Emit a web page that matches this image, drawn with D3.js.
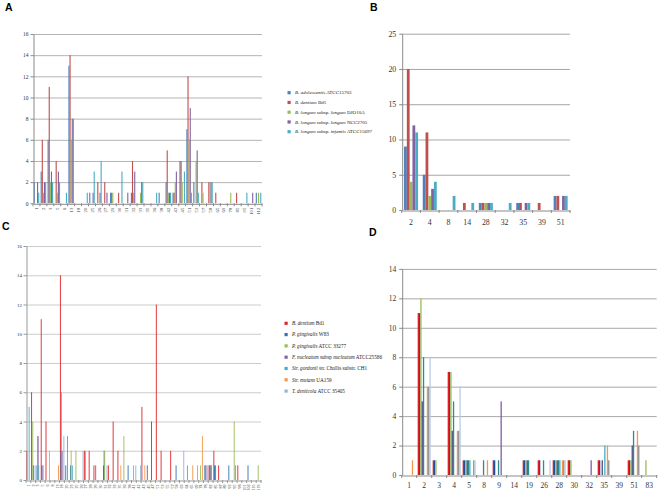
<!DOCTYPE html>
<html><head><meta charset="utf-8">
<script src="https://cdn.jsdelivr.net/npm/d3@7"></script>
<style>body{margin:0;background:#fff}svg{display:block}</style>
</head><body>
<script>
// ---------- DATA ----------
// Panel A
const catsA = ["1","2","3","5","6","13","18","20","25","26","27","29","30","31","32","33","35","36","38","42","43","45","51","53","57","58","65","69","78","85","95","101","112"];
const namesA = ["*B. adolescentis* ATCC15703","*B. dentium* Bd1","*B. longum* subsp. *longum* DJO10A","*B. longum* subsp. *longum* NCC2705","*B. longum* subsp. *infantis* ATCC15697"];
const colorsA = ["#4F81BD","#C0504D","#9BBB59","#8064A2","#4BACC6"];
const aAdolescentis = [2,3,6,0,0,13,0,0,1,0,0,1,0,0,1,0,0,0,1,2,1,4,7,2,0,0,0,0,0,0,0,0,1];
const aDentium      = [0,6,11,4,0,14,0,0,0,2,2,1,1,0,4,0,0,0,0,5,1,4,12,0,2,2,1,0,0,1,0,0,0];
const aDJO10A       = [0,1,2,1,0,6,0,0,0,0,0,1,0,0,1,1,0,0,0,1,2,2,6,4,1,2,0,0,1,0,0,0,1];
const aNCC2705      = [2,2,3,3,0,8,0,0,1,1,1,0,0,1,3,2,0,0,0,1,3,0,9,5,0,2,0,0,0,0,0,1,0];
const aInfantis     = [1,2,2,2,1,8,0,1,3,4,0,0,3,0,0,2,0,1,0,1,0,3,1,1,0,2,0,0,0,0,1,0,1];
const yTicksA = [0,2,4,6,8,10,12,14,16];

// Panel B
const catsB = ["2","4","8","14","28","32","35","39","51"];
const bAdolescentis = [9,5,0,0,1,0,1,0,2];
const bDentium      = [20,11,0,1,1,0,1,1,2];
const bDJO10A       = [4,2,0,0,1,0,0,0,0];
const bNCC2705      = [12,3,0,0,1,0,1,0,2];
const bInfantis     = [11,4,2,1,1,1,1,0,2];
const yTicksB = [0,5,10,15,20,25];

// Panel C
const catsC = ["1","2","3","5","6","8","13","18","20","23","25","26","27","28","29","30","31","32","33","35","36","38","41","42","43","45","47","51","53","55","57","58","63","64","65","69","74","78","82","85","87","89","92","95","98","101","106","110","119"];
const namesC = ["*B. dentium* Bd1","*P. gingivalis* W83","*P. gingivalis* ATCC 33277","*F. nucleatum* subsp *nucleatum* ATCC25586","*Str. gordonii* str. Challis substr. CH1","*Str. mutans* UA159","*T. denticola* ATCC 35405"];
const colorsC = ["#E0262B","#2E75B6","#9BBB59","#8064A2","#4BACC6","#F79646","#95B3D7"];
const cDentium   = [2,6,0,11,4,0,0,14,0,0,0,0,2,2,1,0,1,1,4,2,0,0,0,0,5,0,4,12,2,0,2,0,0,0,0,0,0,0,1,2,1,0,0,0,1,0,0,0,0];
const cW83       = [0,0,1,1,0,0,0,2,1,1,0,0,0,0,0,0,2,0,0,0,0,1,0,0,0,1,0,0,0,0,0,1,0,0,0,0,0,1,1,1,0,0,1,0,0,0,1,0,0];
const c33277     = [0,4,3,0,0,0,0,6,0,2,2,0,2,0,0,0,2,0,0,0,3,0,1,0,0,0,0,0,0,0,0,0,0,0,0,0,1,1,1,0,0,0,0,4,0,0,0,0,1];
const cNucleatum = [0,1,3,1,0,0,0,2,0,0,0,0,0,0,1,0,0,0,0,0,0,0,0,0,0,0,0,0,0,0,0,0,0,0,0,0,0,1,1,1,0,0,0,0,0,0,0,0,0];
const cGordonii  = [5,0,1,0,0,0,0,0,3,1,0,0,0,0,0,0,0,0,0,0,0,0,0,0,0,0,0,0,0,0,0,0,0,1,0,0,0,0,1,0,0,0,0,1,0,0,0,0,0];
const cMutans    = [0,0,0,0,0,0,1,0,0,0,0,0,0,0,0,0,0,0,0,1,0,0,0,0,1,0,0,0,0,0,0,0,0,0,1,1,3,0,0,0,0,0,0,0,0,0,0,0,0];
const cDenticola = [0,1,0,0,2,0,0,3,0,0,0,2,0,0,0,0,1,0,0,0,0,0,1,1,0,0,0,0,0,0,0,0,2,0,0,0,0,1,0,0,0,0,0,0,0,0,0,0,0];
const yTicksC = [0,2,4,6,8,10,12,14,16];

// Panel D
const catsD = ["1","2","3","4","5","8","9","14","19","26","28","30","32","35","39","51","83"];
const colorsD = ["#E31B23","#1F4E9A","#9BBB59","#4B4F7F","#2E8B8B","#4BACC6","#7F5FA8","#F79646","#8C8C8C","#B9CDE5"];
const dS1  = [0,11,1,7,1,0,1,0,1,1,1,1,0,1,0,1,0];
const dS2  = [0,11,1,7,1,0,1,0,1,1,1,1,0,1,0,1,0];
const dS3  = [0,12,1,7,1,0,0,0,1,0,1,1,0,0,0,1,1];
const dS4  = [0,5,0,3,1,0,0,0,1,0,1,0,0,1,0,2,0];
const dS5  = [0,8,0,5,1,1,1,0,1,1,1,0,0,0,0,3,0];
const dS6  = [0,0,0,0,1,0,0,0,0,0,1,0,0,2,0,0,0];
const dS7  = [0,0,0,0,0,0,5,0,0,0,0,0,1,0,0,0,0];
const dS8  = [1,6,0,3,0,1,0,0,0,0,1,0,0,2,0,3,0];
const dS9  = [0,6,0,3,1,0,0,0,0,0,1,0,0,1,0,2,0];
const dS10 = [0,8,0,6,1,0,0,0,0,1,1,0,0,0,0,0,0];
const yTicksD = [0,2,4,6,8,10,12,14];

// ---------- DRAW ----------
const SERIF = "'Liberation Serif','Times New Roman',serif";
const SANS = "'Liberation Sans',Arial,sans-serif";
const svg = d3.select("body").append("svg").attr("width",661).attr("height",495);

function panel(o){
  const g = svg.append("g");
  const x0 = d3.scaleBand().domain(o.cats).range([o.left,o.right]).paddingInner(o.pad).paddingOuter(o.pad/2);
  const x1 = d3.scaleBand().domain(d3.range(o.series.length)).range([0,x0.bandwidth()]);
  const yMax = o.yTicks[o.yTicks.length-1];
  const y = d3.scaleLinear().domain([0,yMax]).range([o.bottom,o.top]);
  // grid
  g.selectAll(null).data(o.yTicks.filter(t=>t>0)).join("line")
    .attr("x1",o.left).attr("x2",o.right).attr("y1",d=>y(d)+0.5).attr("y2",d=>y(d)+0.5)
    .attr("stroke",o.grid).attr("stroke-width",1);
  // bars
  o.series.forEach((vals,k)=>{
    g.selectAll(null).data(vals.map((v,i)=>({v,c:o.cats[i]})).filter(d=>d.v>0)).join("rect")
      .attr("x",d=>x0(d.c)+x1(k)).attr("width",Math.max(x1.bandwidth(),o.minW||0))
      .attr("y",d=>y(d.v)).attr("height",d=>y(0)-y(d.v)).attr("fill",o.colors[k]);
  });
  // y axis
  const yg = g.append("g").attr("transform",`translate(${o.left+0.5},0)`)
    .call(d3.axisLeft(y).tickValues(o.yTicks).tickSize(3).tickSizeOuter(0).tickFormat(d3.format("d")));
  yg.select(".domain").attr("stroke",o.axis);
  yg.selectAll(".tick line").attr("stroke",o.axis);
  yg.selectAll(".tick text").attr("font-family",SERIF).attr("font-size",o.yFont).attr("fill","#333").attr("x",-o.yGap);
  // x axis
  const xg = g.append("g").attr("transform",`translate(0,${o.bottom+0.5})`)
    .call(d3.axisBottom(x0).tickSize(0).tickSizeOuter(0));
  xg.select(".domain").attr("stroke",o.axis);
  const step = x0.step();
  g.selectAll(null).data(d3.range(o.cats.length+1)).join("line")
    .attr("x1",i=>o.left+x0.paddingOuter()*step - x0.paddingInner()*step/2 + i*step)
    .attr("x2",i=>o.left+x0.paddingOuter()*step - x0.paddingInner()*step/2 + i*step)
    .attr("y1",o.bottom).attr("y2",o.bottom+3).attr("stroke",o.axis);
  const xt = xg.selectAll(".tick text").attr("font-family",SERIF).attr("font-size",o.xFont).attr("fill","#333");
  if(o.rotate){
    xt.attr("transform","rotate(-90)").attr("text-anchor","end").attr("x",-4).attr("y",0).attr("dy","0.35em");
  } else {
    xt.attr("y",o.xGap).attr("dy","0.71em");
  }
  // panel letter
  svg.append("text").attr("x",o.letterX).attr("y",o.letterY).text(o.letter)
    .attr("font-family",SANS).attr("font-weight","bold").attr("font-size",10.5).attr("fill","#000");
}

function legend(names,colors,x,y0,dy,fs){
  const lg = svg.append("g");
  names.forEach((n,k)=>{
    const yy = y0 + k*dy;
    lg.append("rect").attr("x",x).attr("y",yy-1.6).attr("width",3.2).attr("height",3.2).attr("fill",colors[k]);
    const t = lg.append("text").attr("x",x+7.5).attr("y",yy).attr("dy","0.35em")
      .attr("font-family",SERIF).attr("font-size",fs).attr("fill","#222");
    n.split("*").forEach((seg,j)=>{ if(seg.length) t.append("tspan").attr("font-style",j%2?"italic":"normal").text(seg); });
  });
}

panel({cats:catsA, series:[aAdolescentis,aDentium,aDJO10A,aNCC2705,aInfantis], colors:colorsA,
  left:33, right:262, top:34, bottom:203.3, yTicks:yTicksA, pad:0.2, minW:1,
  grid:"#b4b4b4", axis:"#8a8a8a", yFont:5.5, yGap:5, xFont:4.6, rotate:true,
  letter:"A", letterX:5, letterY:11});
legend(namesA,colorsA,287.5,92.7,9.75,5);

panel({cats:catsB, series:[bAdolescentis,bDentium,bDJO10A,bNCC2705,bInfantis], colors:colorsA,
  left:401.7, right:570, top:33.7, bottom:210, yTicks:yTicksB, pad:0.25,
  grid:"#a6a6a6", axis:"#8a8a8a", yFont:7.8, yGap:6, xFont:7.8, xGap:9, rotate:false,
  letter:"B", letterX:370, letterY:11});

panel({cats:catsC, series:[cDentium,cW83,c33277,cNucleatum,cGordonii,cMutans,cDenticola], colors:colorsC,
  left:26, right:261, top:246, bottom:480, yTicks:yTicksC, pad:0.15, minW:0.9,
  grid:"#cccccc", axis:"#999", yFont:5, yGap:4.5, xFont:4, rotate:true,
  letter:"C", letterX:2, letterY:229.5});
legend(namesC,colorsC,284.5,323.3,11.3,5.2);

panel({cats:catsD, series:[dS1,dS2,dS3,dS4,dS5,dS6,dS7,dS8,dS9,dS10], colors:colorsD,
  left:401.7, right:656.7, top:268.9, bottom:475, yTicks:yTicksD, pad:0.13,
  grid:"#a8a8a8", axis:"#8a8a8a", yFont:7.5, yGap:6, xFont:7.5, xGap:7, rotate:false,
  letter:"D", letterX:369, letterY:236});
</script>
</body></html>
